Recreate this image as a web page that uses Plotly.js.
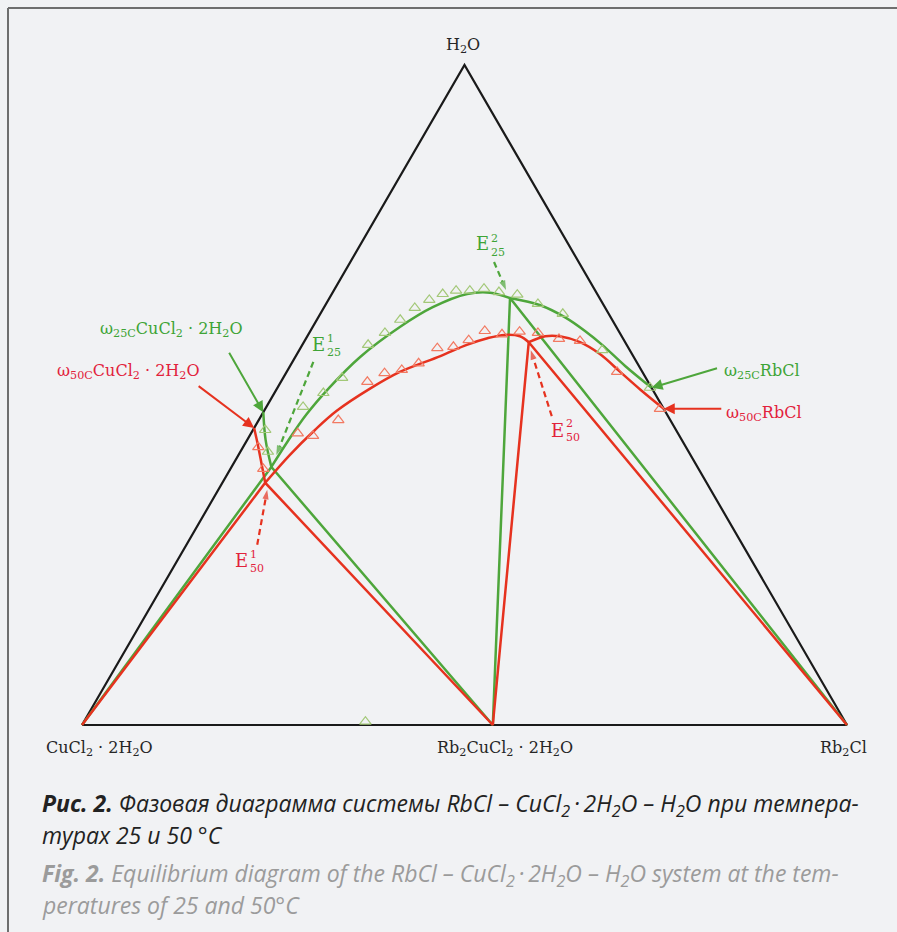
<!DOCTYPE html>
<html><head><meta charset="utf-8">
<script src="https://cdn.plot.ly/plotly-3.0.1.min.js"></script>
<style>html,body{margin:0;padding:0;background:#f1f2f4;}#chart{width:897px;height:932px;}</style>
</head><body><div id="chart"></div>
<script>
// Compositions in mass %: H2O and RbCl (CuCl2·2H2O is the remainder)
const vertexH2O_h = 100, vertexH2O_r = 0;
const vertexCu_h = 0, vertexCu_r = 0;
const vertexRb_h = 0, vertexRb_r = 100;
const compound_h = 0, compound_r = 53.7;      // Rb2CuCl2·2H2O

// invariant points
const e25_1 = [39.1, 5.2];
const e25_2 = [64.7, 23.6];
const e50_1 = [36.7, 5.6];
const e50_2 = [58.0, 29.4];

// 25 °C solubility curves
const c25a_h = [47.4, 43.2, 39.1];
const c25a_r = [0.0, 2.4, 5.2];
const c25b_h = [39.1, 43.0, 47.0, 51.2, 55.8, 60.3, 63.3, 65.3, 65.5, 64.7];
const c25b_r = [5.2, 5.4, 5.8, 6.8, 8.5, 11.4, 14.2, 17.7, 20.6, 23.6];
const c25c_h = [64.7, 63.6, 61.8, 59.7, 57.6, 54.4, 51.1];
const c25c_r = [23.6, 28.1, 32.2, 35.9, 39.2, 43.8, 48.9];

// 50 °C solubility curves
const c50a_h = [45.0, 42.1, 39.4, 36.7];
const c50a_r = [0.0, 2.0, 3.8, 5.6];
const c50b_h = [36.7, 40.9, 44.7, 47.6, 51.0, 53.5, 55.9, 57.6, 58.6, 59.1, 58.9, 58.0];
const c50b_r = [5.6, 6.7, 8.1, 9.5, 12.2, 14.8, 18.9, 21.5, 23.7, 25.7, 27.8, 29.4];
const c50c_h = [58.0, 58.9, 58.9, 58.0, 56.2, 53.5, 50.8, 47.9];
const c50c_r = [29.4, 31.1, 33.0, 36.1, 39.6, 43.6, 47.6, 52.1];

// experimental points
const p25_h = [44.7, 41.4, 48.2, 50.3, 52.6, 57.6, 59.4, 61.4, 63.2, 64.4, 65.3, 65.8, 65.8, 66.1, 65.6, 65.2, 63.8, 62.3, 56.8, 51.1, 0.5];
const p25_r = [1.6, 3.6, 4.8, 6.4, 7.7, 8.6, 9.9, 10.9, 11.9, 13.2, 14.5, 16.0, 17.8, 19.5, 21.7, 24.3, 27.7, 31.7, 39.6, 48.7, 36.8];
const p50_h = [42.1, 38.8, 44.2, 43.8, 46.2, 52.0, 53.3, 53.8, 54.8, 57.1, 57.3, 58.3, 59.7, 59.2, 59.6, 59.4, 58.5, 58.2, 53.5, 47.9];
const p50_r = [2.0, 4.3, 6.1, 8.3, 10.4, 11.3, 12.9, 14.9, 16.6, 17.9, 19.9, 21.4, 22.8, 25.3, 27.4, 29.9, 33.1, 36.0, 43.2, 51.6];

// ---------- drawing ----------
const GREEN = '#4ea63b', RED = '#e6321f';
const GREEN_T = '#3ea436', RED_T = '#e2223c';
const GREEN_M = '#a3c878', RED_M = '#f27a62';
const W = 897, H = 932;
const PXX = 765, PXY = 660; // pixels per unit

const tx = (h, r) => (r + h / 2) / 100;
const ty = (h) => h / 100;
const xs = (hs, rs) => hs.map((h, i) => tx(h, rs[i]));
const ys = (hs) => hs.map(ty);

function ln(hs, rs, color, width) {
  return {type: 'scatter', mode: 'lines', x: xs(hs, rs), y: ys(hs), hoverinfo: 'skip',
    line: {color: color, width: width, shape: 'spline', smoothing: 1.0}};
}
function straight(hs, rs, color, width) {
  return {type: 'scatter', mode: 'lines', x: xs(hs, rs), y: ys(hs), hoverinfo: 'skip',
    line: {color: color, width: width}};
}
function dashedArrow(pt, tipOff, tailOff, color) {
  const X = tx(pt[0], pt[1]), Y = ty(pt[0]);
  return {type: 'scatter', mode: 'lines+markers', hoverinfo: 'skip',
    x: [X + tailOff[0] / PXX, X + tipOff[0] / PXX],
    y: [Y - tailOff[1] / PXY, Y - tipOff[1] / PXY],
    line: {color: color, width: 2.2, dash: '6px,4px'},
    marker: {symbol: ['circle', 'arrow'], size: [0, 10], color: color, angleref: 'previous', line: {width: 0}}};
}

const traces = [
  straight([vertexCu_h, vertexH2O_h, vertexRb_h, vertexCu_h], [vertexCu_r, vertexH2O_r, vertexRb_r, vertexCu_r], '#1a1a1a', 2.2),
  straight([vertexCu_h, e25_1[0], compound_h, e25_2[0], vertexRb_h], [vertexCu_r, e25_1[1], compound_r, e25_2[1], vertexRb_r], GREEN, 2.5),
  ln(c25a_h, c25a_r, GREEN, 2.5), ln(c25b_h, c25b_r, GREEN, 2.5), ln(c25c_h, c25c_r, GREEN, 2.5),
  straight([vertexCu_h, e50_1[0], compound_h, e50_2[0], vertexRb_h], [vertexCu_r, e50_1[1], compound_r, e50_2[1], vertexRb_r], RED, 2.5),
  ln(c50a_h, c50a_r, RED, 2.5), ln(c50b_h, c50b_r, RED, 2.5), ln(c50c_h, c50c_r, RED, 2.5),
  {type: 'scatter', mode: 'markers', x: xs(p25_h, p25_r), y: ys(p25_h), hoverinfo: 'skip',
    marker: {symbol: 'triangle-up-open', size: 10, color: GREEN_M, line: {width: 1.2}}},
  {type: 'scatter', mode: 'markers', x: xs(p50_h, p50_r), y: ys(p50_h), hoverinfo: 'skip',
    marker: {symbol: 'triangle-up-open', size: 10, color: RED_M, line: {width: 1.2}}},
  dashedArrow(e25_1, [5, -12], [42, -105], GREEN),
  dashedArrow(e25_2, [-4, -8], [-16, -36], GREEN),
  dashedArrow(e50_1, [2, 7], [-8, 62], RED),
  dashedArrow(e50_2, [2, 8], [23, 74], RED)
];

const P = (px, py) => ({x: px / W, y: 1 - py / H, xref: 'paper', yref: 'paper', showarrow: false});
const SERIF = 'DejaVu Serif';
function txt(px, py, text, size, color, xa) {
  return Object.assign(P(px, py), {text: text, xanchor: xa || 'center', yanchor: 'middle',
    font: {family: SERIF, size: size, color: color}});
}
function eLabel(ex, ey, sup, sub, color) {
  const stack = Object.assign(P(ex + 13, ey + 1), {text: sup + '<br>' + sub, xanchor: 'left', yanchor: 'middle',
    align: 'left', borderpad: 0, font: {family: SERIF, size: 11, color: color}});
  const e = Object.assign(P(ex + 13, ey), {text: 'E', xanchor: 'right', yanchor: 'middle', borderpad: 0,
    font: {family: SERIF, size: 18, color: color}});
  return [e, stack];
}
function arrowAnn(h, r, ax, ay, color) {
  return {x: tx(h, r), y: ty(h), xref: 'x', yref: 'y', text: '', showarrow: true,
    ax: ax, ay: ay, arrowhead: 2, arrowsize: 1.1, arrowwidth: 2, arrowcolor: color, standoff: 0};
}

const K = '#262626';
const annotations = [
  txt(463, 45, 'H<sub>2</sub>O', 16, K),
  txt(99, 748, 'CuCl<sub>2</sub> · 2H<sub>2</sub>O', 16, K),
  txt(505, 748, 'Rb<sub>2</sub>CuCl<sub>2</sub> · 2H<sub>2</sub>O', 16, K),
  txt(843, 748, 'Rb<sub>2</sub>Cl', 16, K),
  txt(98, 330, 'ω<sub>25C</sub>CuCl<sub>2</sub> · 2H<sub>2</sub>O', 16, GREEN_T, 'left'),
  txt(55, 371, 'ω<sub>50C</sub>CuCl<sub>2</sub> · 2H<sub>2</sub>O', 16, RED_T, 'left'),
  txt(722, 371, 'ω<sub>25C</sub>RbCl', 16, GREEN_T, 'left'),
  txt(724, 413, 'ω<sub>50C</sub>RbCl', 16, RED_T, 'left'),
  ...eLabel(313, 344, '1', '25', GREEN_T),
  ...eLabel(477, 244, '2', '25', GREEN_T),
  ...eLabel(236, 560, '1', '50', RED_T),
  ...eLabel(552, 430, '2', '50', RED_T),
  arrowAnn(c25a_h[0], c25a_r[0], -35, -61, GREEN),
  arrowAnn(c50a_h[0], c50a_r[0], -57, -43, RED),
  arrowAnn(c25c_h[c25c_h.length - 1], c25c_r[c25c_r.length - 1], 67, -20, GREEN),
  arrowAnn(c50c_h[c50c_h.length - 1], c50c_r[c50c_r.length - 1], 59, 0, RED)
];

const CAP = 'Open Sans';
const thin = '\u2009';
function cap(py, text, color) {
  return Object.assign(P(40, py), {text: text, xanchor: 'left', yanchor: 'middle',
    font: {family: CAP, size: 23, color: color, style: 'italic'}});
}
annotations.push(
  cap(804, '<b>Рис. 2.</b> Фазовая диаграмма системы RbCl – CuCl<sub>2</sub>' + thin + '·' + thin + '2H<sub>2</sub>O – H<sub>2</sub>O при темпера-', '#222222'),
  cap(835, 'турах 25 и 50 °C', '#222222'),
  cap(874, '<b>Fig. 2.</b> Equilibrium diagram of the RbCl – CuCl<sub>2</sub>' + thin + '·' + thin + '2H<sub>2</sub>O – H<sub>2</sub>O system at the tem-', '#9b9b9b'),
  cap(905, 'peratures of 25 and 50°C', '#9b9b9b')
);

const layout = {
  width: W, height: H, margin: {l: 0, r: 0, t: 0, b: 0},
  paper_bgcolor: '#f1f2f4', plot_bgcolor: '#f1f2f4', showlegend: false,
  xaxis: {range: [-82 / PXX, (W - 82) / PXX], visible: false, fixedrange: true},
  yaxis: {range: [-(H - 725) / PXY, 725 / PXY], visible: false, fixedrange: true},
  shapes: [
    {type: 'line', xref: 'paper', yref: 'paper', x0: 8 / W, x1: 8 / W, y0: 0, y1: 1 - 8 / H, line: {color: '#6e6e6e', width: 2}},
    {type: 'line', xref: 'paper', yref: 'paper', x0: 8 / W, x1: 1, y0: 1 - 8 / H, y1: 1 - 8 / H, line: {color: '#6e6e6e', width: 2}}
  ],
  annotations: annotations
};

Plotly.newPlot('chart', traces, layout, {staticPlot: true, displayModeBar: false});
</script></body></html>
